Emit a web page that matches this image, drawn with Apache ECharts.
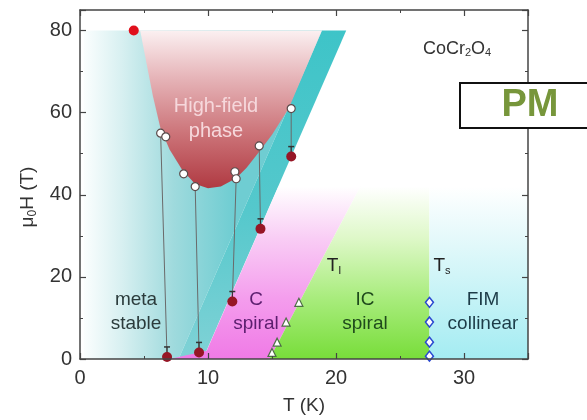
<!DOCTYPE html>
<html>
<head>
<meta charset="utf-8">
<script src="https://cdn.jsdelivr.net/npm/echarts@6/dist/echarts.min.js"></script>
<style>
  html, body { margin: 0; padding: 0; background: #fff; }
  #chart { width: 587px; height: 420px; }
</style>
</head>
<body>
<div id="chart"></div>
<script>

// ===== phase regions (T in K, field in T) =====
const metastableRegion = [[0.3, 0], [0.3, 80], [18.9, 80], [7.7, 0]];
const tealBand = [[7.7, 0], [9.6, 0], [20.8, 80], [18.9, 80]];
const cSpiralRegion = [[7.0, 0], [14.8, 0], [21.9, 42], [15.5, 42], [9.9, 2]];
const icSpiralRegion = [[14.8, 0], [27.3, 0], [27.3, 42], [21.9, 42]];
const fimRegion = [[27.3, 0], [35, 0], [35, 42], [27.3, 42]];
const highFieldRegion = [
    [4.7, 80], [5.2, 72], [5.7, 64], [6.3, 56], [7, 51], [8, 46], [9, 42.6],
    [10, 41.6], [11, 42], [12.2, 44], [13, 46.5], [14, 50.5], [15, 54.6],
    [16.3, 61], [18.9, 80]
];

// ===== measured points =====
const openCircles = [
    [6.3, 55], [6.7, 54.1], [8.1, 45.1], [9.0, 42], [12.1, 45.6],
    [12.2, 43.9], [14.0, 51.9], [16.5, 61]
];
const filledCircles = [[6.8, 0.5], [9.3, 1.6], [11.9, 14], [14.1, 31.7], [16.5, 49.3]];
const redPoint = [[4.2, 80]];
const tiPoints = [[15.0, 1.6], [15.4, 4.1], [16.1, 9], [17.1, 13.8]];
const tsPoints = [[27.3, 0.7], [27.3, 4.1], [27.3, 9], [27.3, 13.8]];
// open circle -> filled circle connections [T1, H1, T2, H2]
const connections = [
    [6.3, 55, 6.8, 0.5],
    [9.0, 42, 9.3, 1.6],
    [12.2, 43.9, 11.9, 14],
    [14.0, 51.9, 14.1, 31.7],
    [16.5, 61, 16.5, 49.3]
];

const xTicks = { min: 0, max: 35, interval: 10 };
const yTicks = { min: 0, max: 85, interval: 20 };


const chart = echarts.init(document.getElementById("chart"));

function grad(x0, y0, x1, y1, stops, global) {
    return new echarts.graphic.LinearGradient(x0, y0, x1, y1,
        stops.map(s => ({ offset: s[0], color: s[1] })), global);
}

// fill may be a function of api (for gradients in pixel space)
function region(points, fill, z) {
    return {
        type: "custom",
        silent: true,
        z: z,
        data: [0],
        renderItem: function (params, api) {
            return {
                type: "polygon",
                shape: { points: points.map(p => api.coord(p)) },
                style: { fill: typeof fill === "function" ? fill(api) : fill }
            };
        }
    };
}

const fontFamily = "'Liberation Sans', Arial, sans-serif";

function axisCommon(extra) {
    return Object.assign({
        type: "value",
        z: 10,
        splitLine: { show: false },
        axisLine: { show: true, onZero: false, lineStyle: { color: "#444", width: 1.5 } },
        axisTick: { show: true, inside: true, length: 6, lineStyle: { color: "#444", width: 1.2 } },
        minorTick: { show: true, splitNumber: 2, length: 3, lineStyle: { color: "#444", width: 1 } },
        axisLabel: { fontSize: 20, color: "#333", fontFamily: fontFamily, showMaxLabel: false }
    }, extra);
}

chart.setOption({
    animation: false,
    grid: { left: 80, right: 59, top: 10, bottom: 60 },

    xAxis: [
        axisCommon(Object.assign({}, xTicks, {
            position: "bottom",
            axisLabel: { fontSize: 20, color: "#333", fontFamily: fontFamily, margin: 9, showMaxLabel: false },
            name: "T (K)",
            nameLocation: "middle",
            nameGap: 37,
            nameTextStyle: { fontSize: 19, color: "#333", fontFamily: fontFamily }
        })),
        axisCommon(Object.assign({}, xTicks, {
            position: "top",
            axisLabel: { show: false }
        }))
    ],

    yAxis: [
        axisCommon(Object.assign({}, yTicks, {
            position: "left",
            axisLabel: { fontSize: 20, color: "#333", fontFamily: fontFamily, margin: 8, showMaxLabel: false }
        })),
        axisCommon(Object.assign({}, yTicks, {
            position: "right",
            axisLabel: { show: false }
        }))
    ],

    series: [
        region(metastableRegion, function (api) {
            const a = api.coord([0.3, 0]);
            const b = api.coord([12, 0]);
            return grad(a[0], 0, b[0], 0,
                [[0, "#fbfefe"], [0.25, "#d8f0f1"], [0.6, "#9fdadd"], [1, "#6fcdd2"]], true);
        }, 1),
        region(tealBand,
            grad(0, 0, 0, 1, [[0, "#3ec4c8"], [0.55, "#55c8cc"], [1, "#80d2d6"]]), 2),
        region(cSpiralRegion,
            grad(0, 0, 0, 1, [[0, "#ffffff"], [0.3, "#f9cdf5"], [0.65, "#f49ded"], [1, "#f07ae6"]]), 2),
        region(icSpiralRegion,
            grad(0, 0, 0, 1, [[0, "#ffffff"], [0.3, "#def8c8"], [0.65, "#a8ec7c"], [1, "#78dd3a"]]), 2),
        region(fimRegion,
            grad(0, 0, 0, 1, [[0, "#ffffff"], [0.35, "#e0f8fa"], [1, "#a4ecf2"]]), 2),
        region(highFieldRegion,
            grad(0, 0, 0, 1, [[0, "#fbf0f1"], [0.3, "#e6b4b8"], [0.65, "#cc7479"], [1, "#b03a42"]]), 3),

        {
            type: "custom",
            silent: true,
            z: 4,
            data: connections,
            renderItem: function (params, api) {
                const a = api.coord([api.value(0), api.value(1)]);
                const b = api.coord([api.value(2), api.value(3)]);
                return {
                    type: "line",
                    shape: { x1: a[0], y1: a[1], x2: b[0], y2: b[1] },
                    style: { stroke: "#6a6a6a", lineWidth: 1 }
                };
            }
        },

        // small caps above the filled circles
        {
            type: "custom",
            silent: true,
            z: 5,
            data: filledCircles,
            renderItem: function (params, api) {
                const p = api.coord([api.value(0), api.value(1)]);
                return {
                    type: "group",
                    children: [
                        { type: "line", shape: { x1: p[0], y1: p[1] - 4, x2: p[0], y2: p[1] - 10 },
                          style: { stroke: "#333", lineWidth: 1.2 } },
                        { type: "line", shape: { x1: p[0] - 3, y1: p[1] - 10, x2: p[0] + 3, y2: p[1] - 10 },
                          style: { stroke: "#333", lineWidth: 1.5 } }
                    ]
                };
            }
        },

        {
            type: "scatter",
            z: 6,
            data: filledCircles,
            symbol: "circle",
            symbolSize: 10,
            itemStyle: { color: "#961626", opacity: 1 }
        },
        {
            type: "scatter",
            z: 6,
            data: openCircles,
            symbol: "circle",
            symbolSize: 8,
            itemStyle: { color: "#ffffff", borderColor: "#5a4a4a", borderWidth: 1.2, opacity: 1 }
        },
        {
            type: "scatter",
            z: 6,
            data: redPoint,
            symbol: "circle",
            symbolSize: 10,
            itemStyle: { color: "#e0101c", opacity: 1 }
        },
        {
            type: "scatter",
            z: 6,
            data: tiPoints,
            symbol: "triangle",
            symbolSize: 8,
            itemStyle: { color: "#ffffff", borderColor: "#4d6e45", borderWidth: 1.2, opacity: 1 }
        },
        {
            type: "scatter",
            z: 6,
            data: tsPoints,
            symbol: "diamond",
            symbolSize: [8, 10],
            itemStyle: { color: "#ffffff", borderColor: "#2a48d0", borderWidth: 1.5, opacity: 1 }
        }
    ],

    graphic: [
        {
            type: "text", x: 28, y: 197, rotation: Math.PI / 2, z: 20,
            style: {
                text: "{n|μ}{s|0}{n|H (T)}",
                align: "center", verticalAlign: "middle",
                rich: {
                    n: { fontSize: 19, fill: "#333", fontFamily: fontFamily },
                    s: { fontSize: 12, fill: "#333", fontFamily: fontFamily, padding: [9, 0, 0, 0] }
                }
            }
        },
        {
            type: "text", x: 216, y: 119, z: 20,
            style: {
                text: "High-field\nphase", align: "center", verticalAlign: "middle",
                fontSize: 20, lineHeight: 25, fill: "#f6d8dc", fontFamily: fontFamily
            }
        },
        {
            type: "text", x: 136, y: 312, z: 20,
            style: {
                text: "meta\nstable", align: "center", verticalAlign: "middle",
                fontSize: 19, lineHeight: 24, fill: "#2b3b3b", fontFamily: fontFamily
            }
        },
        {
            type: "text", x: 256, y: 312, z: 20,
            style: {
                text: "C\nspiral", align: "center", verticalAlign: "middle",
                fontSize: 19, lineHeight: 24, fill: "#5b1e6e", fontFamily: fontFamily
            }
        },
        {
            type: "text", x: 365, y: 312, z: 20,
            style: {
                text: "IC\nspiral", align: "center", verticalAlign: "middle",
                fontSize: 19, lineHeight: 24, fill: "#1f4a1c", fontFamily: fontFamily
            }
        },
        {
            type: "text", x: 483, y: 312, z: 20,
            style: {
                text: "FIM\ncollinear", align: "center", verticalAlign: "middle",
                fontSize: 19, lineHeight: 24, fill: "#1d3c48", fontFamily: fontFamily
            }
        },
        {
            type: "text", x: 334, y: 266, z: 20,
            style: {
                text: "{n|T}{s|I}", align: "center", verticalAlign: "middle",
                rich: {
                    n: { fontSize: 19, fill: "#222", fontFamily: fontFamily },
                    s: { fontSize: 11, fill: "#222", fontFamily: fontFamily, padding: [9, 0, 0, 0] }
                }
            }
        },
        {
            type: "text", x: 442, y: 266, z: 20,
            style: {
                text: "{n|T}{s|s}", align: "center", verticalAlign: "middle",
                rich: {
                    n: { fontSize: 19, fill: "#222", fontFamily: fontFamily },
                    s: { fontSize: 11, fill: "#222", fontFamily: fontFamily, padding: [9, 0, 0, 0] }
                }
            }
        },
        {
            type: "text", x: 457, y: 49, z: 20,
            style: {
                text: "{n|CoCr}{s|2}{n|O}{s|4}", align: "center", verticalAlign: "middle",
                rich: {
                    n: { fontSize: 18, fill: "#333", fontFamily: fontFamily },
                    s: { fontSize: 11, fill: "#333", fontFamily: fontFamily, padding: [8, 0, 0, 0] }
                }
            }
        },
        {
            type: "rect", z: 30,
            shape: { x: 460, y: 83, width: 140, height: 45 },
            style: { fill: "#ffffff", stroke: "#111", lineWidth: 2 }
        },
        {
            type: "text", x: 530, y: 106, z: 31,
            style: {
                text: "PM", align: "center", verticalAlign: "middle",
                fontSize: 38, fontWeight: "bold", fill: "#77963b", fontFamily: fontFamily
            }
        }
    ]
});


window.addEventListener("resize", () => chart.resize());

</script>
</body>
</html>
